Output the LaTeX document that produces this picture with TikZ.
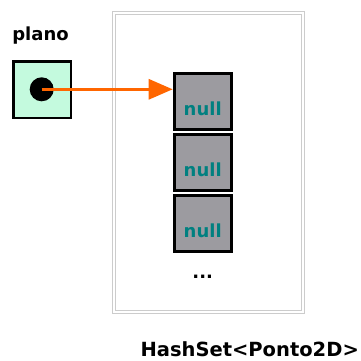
\documentclass[tikz,border=0pt]{standalone}
\usepackage{fontspec}
\setmainfont{DejaVu Sans}
\usetikzlibrary{positioning,arrows.meta}
\definecolor{menta}{RGB}{196,250,222}
\definecolor{cinza}{RGB}{156,155,160}
\definecolor{laranja}{RGB}{255,102,0}
\definecolor{verdeazul}{RGB}{0,128,128}
\begin{document}
\begin{tikzpicture}[x=1pt, y=-1pt, node distance=2pt]
    \tikzset{variavel/.style={rectangle, draw=black, line width=2.5pt, fill=menta,
        minimum width=57.5pt, minimum height=56.5pt}}
    \tikzset{celula/.style={rectangle, draw=black, line width=3pt, fill=cinza,
        minimum width=57pt, minimum height=56pt, text=verdeazul,
        text height=28pt, text depth=0pt, font=\bfseries\fontsize{18}{21}\selectfont}}
    \tikzset{rotulo/.style={font=\bfseries\fontsize{18}{21}\selectfont}}
    \tikzset{ponteiro/.style={draw=laranja, line width=3pt, -{Triangle[length=24pt, width=20pt]}}}
    \useasboundingbox (0,0) rectangle (361,361);

    \node (conjunto) [rectangle, draw=black!20, line width=1pt, double, double distance=2pt,
        minimum width=188.5pt, minimum height=298pt] at (208.5,162.5) {};
    \node (plano) [variavel] at (42,89.5) {};
    \node (nomeplano) [rotulo, anchor=base] at (40.5,41) {plano};
    \node (ref) [circle, fill=black, minimum size=24pt, inner sep=0pt] at (41.7,89.3) {};
    \node (celula1) [celula] at (202.7,101.9) {null};
    \node (celula2) [celula, below=of celula1] {null};
    \node (celula3) [celula, below=of celula2] {null};
    \node (reticencias) [rotulo, anchor=base] at (202.7,278) {...};
    \node (nomeconjunto) [rotulo, font=\bfseries\fontsize{19.5}{22}\selectfont, anchor=base]
        at (249.7,356.7) {HashSet<Ponto2D>};

    \draw [ponteiro] (ref.center) -- (ref.center -| celula1.west);
\end{tikzpicture}
\end{document}
